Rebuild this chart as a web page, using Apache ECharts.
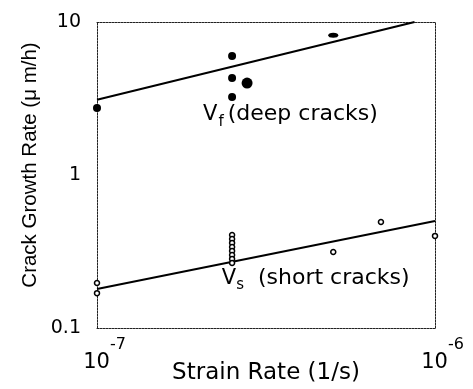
<!DOCTYPE html>
<html>
<head>
<meta charset="utf-8">
<script src="https://cdn.jsdelivr.net/npm/echarts@6/dist/echarts.min.js"></script>
<style>
  html, body { margin: 0; padding: 0; background: #fff; }
  #chart { width: 473px; height: 389px; }
</style>
</head>
<body>
<div id="chart"></div>
<script>
// Axis ranges (log scales)
const xRange = [1e-7, 1e-6];
const yRange = [0.1, 10];
const yTickLabels = { '0.1': '0.1', '1': '1', '10': '10' };

// Deep cracks, V_f (filled dots): [strain rate, growth rate]
const deepSmall = [
  [1e-7, 2.74],
  [2.51e-7, 6.0],
  [2.51e-7, 4.31],
  [2.51e-7, 3.24]
];
const deepLarge = [[2.78e-7, 3.99]];
const deepFlat = [[5.0e-7, 8.2]];

// Short cracks, V_s (open circles)
const shortPts = [
  [1e-7, 0.197], [1e-7, 0.169],
  [2.51e-7, 0.405], [2.51e-7, 0.382], [2.51e-7, 0.360], [2.51e-7, 0.338],
  [2.51e-7, 0.319], [2.51e-7, 0.300], [2.51e-7, 0.283], [2.51e-7, 0.266],
  [5.0e-7, 0.314],
  [6.92e-7, 0.493],
  [1e-6, 0.40]
];

// Power-law fits (end points)
const deepFit = [[1e-7, 3.1], [8.7e-7, 10]];
const shortFit = [[1e-7, 0.18], [1e-6, 0.50]];

// Annotation anchors (data units)
const deepLabelAt = [2.06e-7, 2.5];
const shortLabelAt = [2.34e-7, 0.212];

const FONT = 'DejaVu Sans';
const INK = '#000';
const border = { color: '#222', width: 1, type: [2, 1] };

const chart = echarts.init(document.getElementById('chart'));

const expOf = v => Math.round(Math.log10(v));

const labelRich = (subPad) => ({
  v: { fontFamily: FONT, fontSize: 21, color: INK, lineHeight: 30, verticalAlign: 'middle' },
  s: { fontFamily: FONT, fontSize: 15, color: INK, lineHeight: 30, verticalAlign: 'bottom', padding: subPad },
  t: { fontFamily: FONT, fontSize: 22, color: INK, lineHeight: 30, verticalAlign: 'middle' }
});

chart.setOption({
  backgroundColor: '#fff',
  animation: false,
  grid: { left: 97, top: 22, right: 38, bottom: 61, containLabel: false, outerBoundsMode: 'none' },
  xAxis: [
    {
      type: 'log', logBase: 10, min: xRange[0], max: xRange[1],
      position: 'bottom',
      axisLine: { show: true, onZero: false, lineStyle: border },
      axisTick: { show: false },
      splitLine: { show: false },
      axisLabel: {
        margin: 9,
        formatter: v => '{pad|}{b|10}{e|' + '-' + Math.abs(expOf(v)) + '}',
        rich: {
          pad: { width: 15 },
          b: { fontFamily: FONT, fontSize: 21, color: INK, lineHeight: 36, verticalAlign: 'bottom' },
          e: { fontFamily: FONT, fontSize: 16, color: INK, lineHeight: 36, verticalAlign: 'top' }
        }
      },
      name: 'Strain Rate (1/s)',
      nameLocation: 'middle',
      nameGap: 34,
      nameMoveOverlap: false,
      nameTextStyle: { fontFamily: FONT, fontSize: 23, color: INK }
    },
    {
      type: 'log', logBase: 10, min: xRange[0], max: xRange[1],
      position: 'top',
      axisLine: { show: true, onZero: false, lineStyle: border },
      axisTick: { show: false }, axisLabel: { show: false }, splitLine: { show: false }
    }
  ],
  yAxis: [
    {
      type: 'log', logBase: 10, min: yRange[0], max: yRange[1],
      position: 'left',
      axisLine: { show: true, onZero: false, lineStyle: border },
      axisTick: { show: false },
      splitLine: { show: false },
      axisLabel: {
        margin: 16,
        fontFamily: FONT, fontSize: 19, color: INK,
        formatter: v => yTickLabels[String(+v.toPrecision(3))] || ''
      },
      name: 'Crack Growth Rate (\u03bc m/h)',
      nameLocation: 'middle',
      nameGap: 67,
      nameRotate: 90,
      nameMoveOverlap: false,
      nameTextStyle: { fontFamily: 'Liberation Sans', fontSize: 20.5, color: INK, padding: [0, 0, 0, 20], verticalAlign: 'middle' }
    },
    {
      type: 'log', logBase: 10, min: yRange[0], max: yRange[1],
      position: 'right',
      axisLine: { show: true, onZero: false, lineStyle: border },
      axisTick: { show: false }, axisLabel: { show: false }, splitLine: { show: false }
    }
  ],
  series: [
    {
      type: 'line', data: deepFit, symbol: 'none',
      lineStyle: { color: '#000', width: 2 }, z: 2
    },
    {
      type: 'line', data: shortFit, symbol: 'none',
      lineStyle: { color: '#000', width: 2 }, z: 2
    },
    {
      type: 'scatter', data: deepSmall, symbol: 'circle', symbolSize: 8,
      itemStyle: { color: '#000', opacity: 1 }, z: 3
    },
    {
      type: 'scatter', data: deepLarge, symbol: 'circle', symbolSize: 11,
      itemStyle: { color: '#000', opacity: 1 }, z: 3
    },
    {
      type: 'scatter', data: deepFlat, symbol: 'circle', symbolSize: [10, 5],
      itemStyle: { color: '#000', opacity: 1 }, z: 3
    },
    {
      type: 'scatter', data: shortPts, symbol: 'circle', symbolSize: 5,
      itemStyle: { color: '#fff', borderColor: '#000', borderWidth: 1.5, opacity: 1 }, z: 4
    },
    {
      type: 'scatter', symbolSize: 0, silent: true, z: 5,
      itemStyle: { opacity: 1 },
      data: [
        {
          value: deepLabelAt,
          label: {
            show: true, position: [0, 0], align: 'left', verticalAlign: 'middle', opacity: 1,
            formatter: '{v|V}{s|f}{t|(deep cracks)}',
            rich: labelRich([0, 4, 0, 1])
          }
        },
        {
          value: shortLabelAt,
          label: {
            show: true, position: [0, 0], align: 'left', verticalAlign: 'middle', opacity: 1,
            formatter: '{v|V}{s|s}{t|(short cracks)}',
            rich: labelRich([0, 14, 0, 0])
          }
        }
      ]
    }
  ]
});
</script>
</body>
</html>
